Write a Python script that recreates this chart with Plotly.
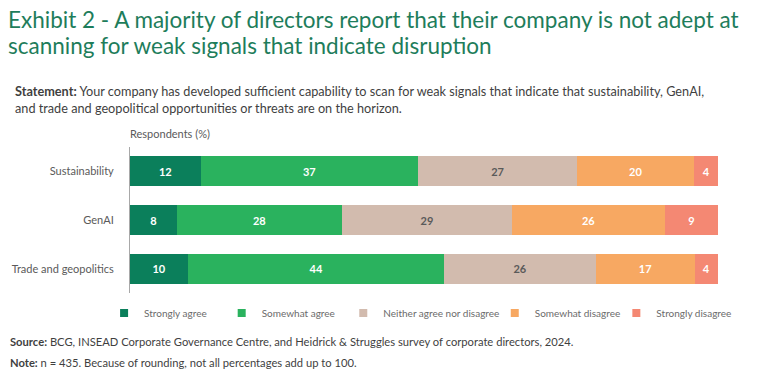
import plotly.graph_objects as go

categories = ["Sustainability", "GenAI", "Trade and geopolitics"]
series_names = ["Strongly agree", "Somewhat agree", "Neither agree nor disagree",
                "Somewhat disagree", "Strongly disagree"]
strongly_agree = [12, 8, 10]
somewhat_agree = [37, 28, 44]
neither = [27, 29, 26]
somewhat_disagree = [20, 26, 17]
strongly_disagree = [4, 9, 4]
series_values = [strongly_agree, somewhat_agree, neither, somewhat_disagree, strongly_disagree]
colors = ["#0B7F5B", "#2AB25E", "#D2BBAE", "#F7A862", "#F48873"]
text_colors = ["#FFFFFF", "#FFFFFF", "#5A5A5A", "#FFFFFF", "#FFFFFF"]

W, H = 768, 381
L, R, T, B = 128, 50, 147, 88
PW = W - L - R
PH = H - T - B


def px(x):
    return (x - L) / PW


def py(y):
    return (H - B - y) / PH


fig = go.Figure()
legend_x = [127, 245, 367, 519, 641]
for i, (name, vals) in enumerate(zip(series_names, series_values)):
    fig.add_trace(go.Bar(
        y=categories, x=vals, name=name, orientation="h",
        marker=dict(color=colors[i], line=dict(width=0)),
        text=[str(v) for v in vals], textposition="inside",
        insidetextanchor="middle", textangle=0,
        textfont=dict(family="Lato", size=11, color=text_colors[i], weight="bold"),
        showlegend=False, hoverinfo="skip",
    ))
    lg = "legend" if i == 0 else f"legend{i+1}"
    fig.add_trace(go.Scatter(
        x=[None], y=[None], mode="markers", name=name,
        marker=dict(symbol="square", size=8, color=colors[i]),
        legend=lg, showlegend=True,
    ))

layout_legends = {}
for i, lx in enumerate(legend_x):
    lg = "legend" if i == 0 else f"legend{i+1}"
    layout_legends[lg] = dict(
        x=px(lx - 25), y=py(313), xanchor="left", yanchor="middle",
        orientation="h", bgcolor="rgba(0,0,0,0)", borderwidth=0,
        font=dict(family="Lato", size=10, color="#6B6B6B"),
        itemwidth=30,
    )

fig.update_layout(
    barmode="stack", barnorm="percent", bargap=0.39,
    width=W, height=H,
    margin=dict(l=L, r=R, t=T, b=B, pad=0),
    paper_bgcolor="white", plot_bgcolor="white",
    font=dict(family="Lato", color="#444444"),
    xaxis=dict(range=[0, 100], visible=False, fixedrange=True),
    yaxis=dict(
        categoryorder="array", categoryarray=categories, autorange="reversed",
        showline=True, linecolor="#A8A8A8", linewidth=1,
        ticks="", ticklabelstandoff=13, showgrid=False, zeroline=False,
        tickfont=dict(family="Lato", size=11, color="#5A5A5A"),
    ),
    **layout_legends,
)

green = "#1E7D5B"
ann = [
    dict(text="Exhibit 2 - A majority of directors report that their company is not adept at",
         x=px(4), y=py(19), font=dict(family="Lato", size=22.5, color=green)),
    dict(text="scanning for weak signals that indicate disruption",
         x=px(4), y=py(46), font=dict(family="Lato", size=22.5, color=green)),
    dict(text="<b>Statement:</b> Your company has developed sufficient capability to scan for weak signals that indicate that sustainability, GenAI,",
         x=px(11), y=py(91), font=dict(family="Lato", size=12.7, color="#3F3F3F")),
    dict(text="and trade and geopolitical opportunities or threats are on the horizon.",
         x=px(11), y=py(108), font=dict(family="Lato", size=12.7, color="#3F3F3F")),
    dict(text="Respondents (%)",
         x=px(126), y=py(133), font=dict(family="Lato", size=11, color="#5A5A5A")),
    dict(text="<b>Source:</b> BCG, INSEAD Corporate Governance Centre, and Heidrick &amp; Struggles survey of corporate directors, 2024.",
         x=px(6), y=py(341), font=dict(family="Lato", size=11.2, color="#3F3F3F")),
    dict(text="<b>Note:</b> n = 435. Because of rounding, not all percentages add up to 100.",
         x=px(6), y=py(362), font=dict(family="Lato", size=11.2, color="#3F3F3F")),
]
for a in ann:
    fig.add_annotation(xref="paper", yref="paper", xanchor="left", yanchor="middle",
                       showarrow=False, align="left", **a)

fig.write_html("out.html", config={"displayModeBar": False},
               post_script="document.body.style.margin='0';")
